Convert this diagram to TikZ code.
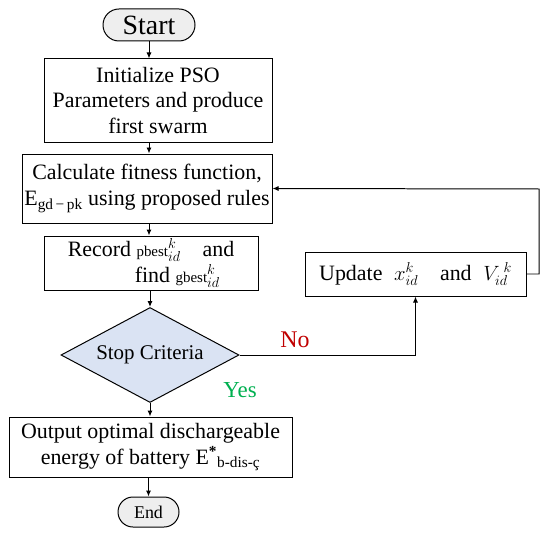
\documentclass[tikz,border=0pt]{standalone}
\usepackage{fontspec}
\setmainfont{Liberation Serif}
\usetikzlibrary{shapes.geometric, arrows.meta}
\definecolor{termgray}{HTML}{EEEEEE}
\definecolor{diamblue}{HTML}{DAE3F3}
\definecolor{noRed}{HTML}{C00000}
\definecolor{yesGreen}{HTML}{00B050}
\tikzset{box/.style={draw, line width=1pt, align=center, inner sep=0pt, font=\fontsize{22}{26}\selectfont},
  term/.style={box, fill=termgray, rounded corners=15bp},
  decide/.style={draw, line width=1pt, diamond, fill=diamblue, inner sep=1bp, shape aspect=1.87, font=\fontsize{21}{25}\selectfont},
  flow/.style={line width=1pt, -{Latex[length=6bp, width=5bp]}}}

\begin{document}
\begin{tikzpicture}[x=1bp, y=-1bp]
            \useasboundingbox (0,0) rectangle (550,535);
            \node[term, minimum width=92bp, minimum height=32bp, rounded corners=16bp, font=\fontsize{28}{30}\selectfont] (start) at (149,25) {Start};
            \node[box, minimum width=228bp, minimum height=83bp] (init) at (158,100.5) {Initialize PSO\\Parameters and produce\\first swarm};
            \node[box, minimum width=250bp, minimum height=69bp] (calc) at (147,188.5) {Calculate fitness function,\\E\textsubscript{gd\,−\,pk} using proposed rules};
            \node[box, minimum width=214bp, minimum height=54bp] (rec) at (151,263) {Record {\fontsize{15}{15}\selectfont pbest}$^k_{id}$\quad and\\\hspace*{2.4em}find {\fontsize{15}{15}\selectfont gbest}$^k_{id}$};
            \node[decide, minimum width=178bp, minimum height=95bp] (stop) at (150,355) {Stop Criteria};
            \node[box, minimum width=221bp, minimum height=44bp] (upd) at (415.5,274) {Update\; $x^k_{id}$\quad and\; $V_{id}^{\;k}$};
            \node[box, minimum width=283bp, minimum height=60bp] (out) at (150.5,447) {Output optimal dischargeable\\energy of battery E\textsuperscript{\textbf{*}}\textsubscript{b-dis-ç}};
            \node[term, minimum width=61bp, minimum height=30bp, font=\fontsize{18}{20}\selectfont] (finish) at (148.5,512) {End};
            % Main path
            \draw[flow] (start.south) -- (start.south |- init.north);
            \draw[flow] (start |- init.south) -- (start |- calc.north);
            \draw[flow] (start |- calc.south) -- (start |- rec.north);
            \draw[flow] (stop |- rec.south) -- (stop.north);
            \draw[flow] (stop.south) -- (stop |- out.north);
            \draw[flow] (finish |- out.south) -- (finish.north);
            % Loop back
            \coordinate (loop) at (539,189);
            \draw[flow] (stop.east) -| (upd.south);
            \draw[flow] (upd.east) -| (loop) -- (calc.east);
            \node[noRed, font=\fontsize{24}{26}\selectfont] (no) at (295,340) {No};
            \node[yesGreen, font=\fontsize{23}{25}\selectfont] (yes) at (240,390) {Yes};
        \end{tikzpicture}
\end{document}
